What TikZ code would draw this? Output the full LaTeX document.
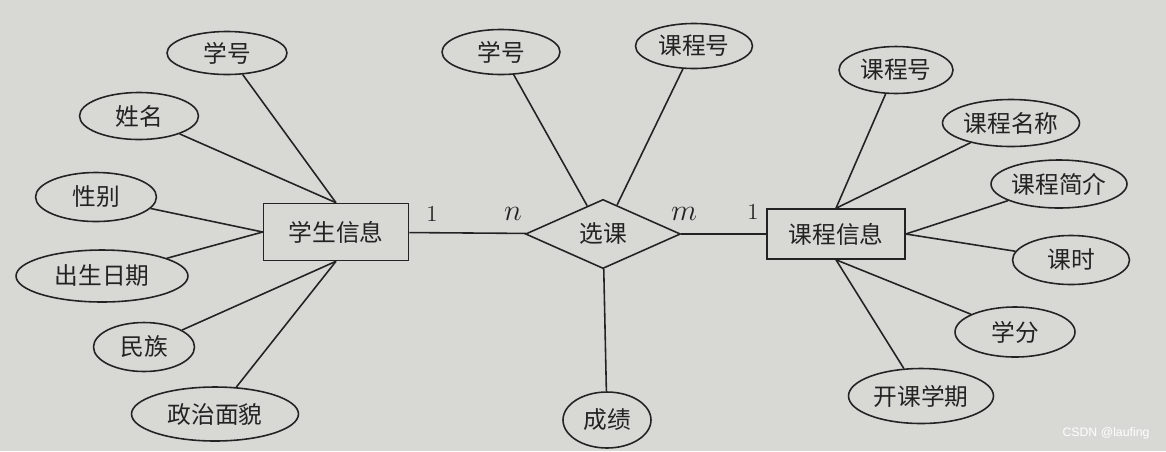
\documentclass[tikz,border=0pt]{standalone}
\usepackage{fontspec}
\newfontfamily\cjk{Noto Sans CJK SC}
\newfontfamily\wmfont{Liberation Sans}
\usetikzlibrary{shapes,positioning}
\definecolor{paper}{RGB}{216,216,213}
\definecolor{ink}{RGB}{35,35,35}

\begin{document}
\begin{tikzpicture}[
    x=0.02cm, y=-0.02cm,
    every node/.style={text=ink},
    entity/.style={rectangle, draw=ink, line width=0.9pt, inner sep=0pt, font=\cjk\fontsize{13.5pt}{16pt}\selectfont},
    relation/.style={diamond, draw=ink, line width=0.9pt, inner sep=0pt, minimum width=3.1cm, minimum height=1.36cm, font=\cjk\fontsize{13.5pt}{16pt}\selectfont},
    attr/.style={ellipse, draw=ink, line width=0.9pt, inner sep=0pt, font=\cjk\fontsize{13.5pt}{16pt}\selectfont},
    link/.style={draw=ink, line width=0.9pt},
    card/.style={font=\fontsize{13pt}{15pt}\selectfont},
    cardvar/.style={font=\fontsize{16pt}{18pt}\selectfont}
]

% Background
\fill[paper] (0,0) rectangle (1166,451);
\useasboundingbox (0,0) rectangle (1166,451);

% Entities and relation
\node[entity, minimum width=2.9cm, minimum height=1.14cm] (stu) at (336,232) {学生信息};
\node[relation] (sel) at (603,234) {选课};
\node[entity, minimum width=2.76cm, minimum height=1.0cm] (course) at (836,234) {课程信息};

% Student attributes
\node[attr, minimum width=2.4cm, minimum height=0.86cm] (sno) at (227,53) {学号};
\node[attr, minimum width=2.38cm, minimum height=0.94cm] (sname) at (139,116) {姓名};
\node[attr, minimum width=2.42cm, minimum height=0.98cm] (ssex) at (96,197) {性别};
\node[attr, minimum width=3.44cm, minimum height=1.04cm] (sbirth) at (102,276) {出生日期};
\node[attr, minimum width=2.02cm, minimum height=0.98cm] (snation) at (144,347) {民族};
\node[attr, minimum width=3.34cm, minimum height=1.08cm] (sparty) at (215,414) {政治面貌};

% Relation attributes
\node[attr, minimum width=2.36cm, minimum height=0.9cm] (selsno) at (501,52) {学号};
\node[attr, minimum width=2.34cm, minimum height=0.9cm] (selcno) at (694,46) {课程号};
\node[attr, minimum width=1.76cm, minimum height=1.12cm] (grade) at (607,420) {成绩};

% Course attributes
\node[attr, minimum width=2.28cm, minimum height=0.94cm] (cno) at (896,70) {课程号};
\node[attr, minimum width=2.74cm, minimum height=0.94cm] (cname) at (1011,123) {课程名称};
\node[attr, minimum width=2.72cm, minimum height=0.96cm] (cintro) at (1059,184) {课程简介};
\node[attr, minimum width=2.34cm, minimum height=0.98cm] (chours) at (1071,260) {课时};
\node[attr, minimum width=2.4cm, minimum height=1.0cm] (ccredit) at (1015,332) {学分};
\node[attr, minimum width=2.9cm, minimum height=1.1cm] (cterm) at (921,396) {开课学期};

% Cardinalities
\node[card] (c1) at (432,214) {1};
\node[cardvar] (cn) at (513,214) {$n$};
\node[cardvar] (cm) at (684,214) {$m$};
\node[card] (c2) at (753,212) {1};

% Lines
\draw[link] (sno) -- (stu.north);
\draw[link] (sname) -- (stu.north);
\draw[link] (ssex) -- (stu.west);
\draw[link] (sbirth) -- (stu.west);
\draw[link] (snation) -- (stu.south);
\draw[link] (sparty) -- (stu.south);
\draw[link] (stu) -- (sel);
\draw[link] (sel) -- (course);
\draw[link] (selsno) -- (sel);
\draw[link] (selcno) -- (sel);
\draw[link] (sel) -- (grade);
\draw[link] (cno) -- (course.north);
\draw[link] (cname) -- (course.north);
\draw[link] (cintro) -- (course.east);
\draw[link] (chours) -- (course.east);
\draw[link] (ccredit) -- (course.south);
\draw[link] (cterm) -- (course.south);

% Watermark
\node[text=white, font=\wmfont\fontsize{7pt}{8pt}\selectfont] (wm) at (1106,433) {CSDN @laufing};

\end{tikzpicture}
\end{document}
